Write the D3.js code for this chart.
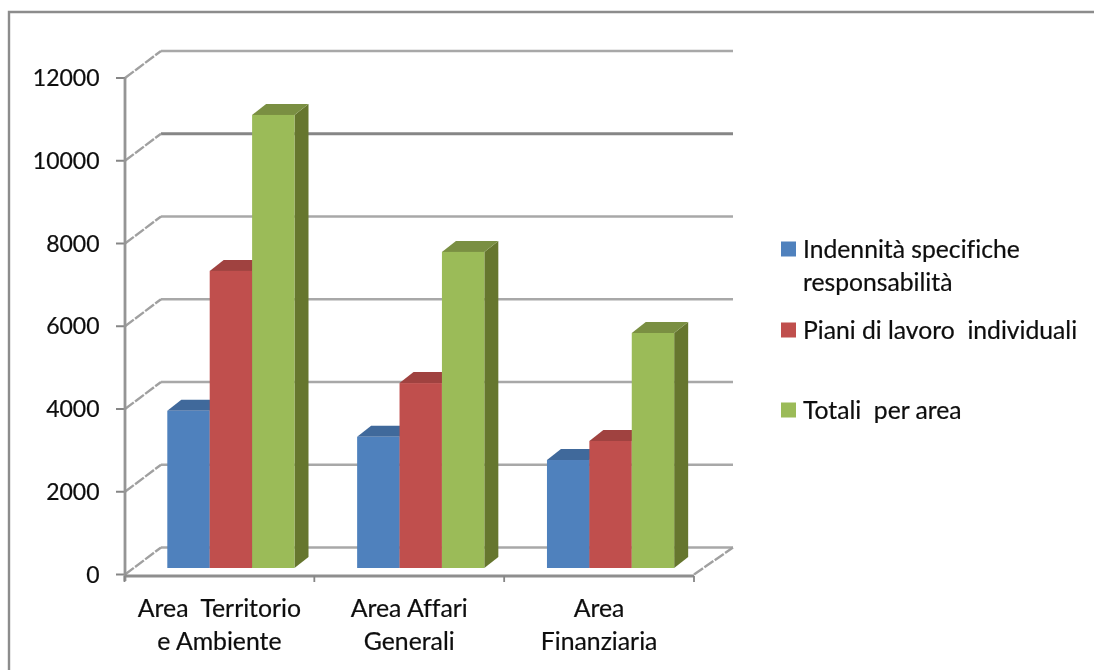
<!DOCTYPE html>
<html><head><meta charset="utf-8">
<script src="https://cdn.jsdelivr.net/npm/d3@7"></script>
<style>
html,body{margin:0;padding:0;background:#fff;overflow:hidden}
text{font-family:Lato,sans-serif;fill:#0c0c0c;stroke:#0c0c0c;stroke-width:0.2;font-variant-ligatures:none}
</style></head><body>
<script>
const categories=[["Area  Territorio","e Ambiente"],["Area Affari","Generali"],["Area","Finanziaria"]];
const seriesNames=[["Indennità specifiche","responsabilità"],["Piani di lavoro  individuali"],["Totali  per area"]];
const indennita=[3800,3170,2610];
const piani=[7180,4470,3070];
const totali=[10950,7640,5680];
const yTicks=[0,2000,4000,6000,8000,10000,12000];
const seriesValues=[indennita,piani,totali];
const front=["#4f81bd","#c0504d","#9bbb59"];
const side=["#385d8a","#8c3a38","#66762f"];
const top_=["#41699b","#a04341","#7a8f42"];

const svg=d3.select("body").append("svg").attr("width",1094).attr("height",670)
  .style("display","block");
svg.append("defs").append("filter").attr("id","soft").attr("x","-2%").attr("y","-2%").attr("width","104%").attr("height","104%")
  .append("feGaussianBlur").attr("stdDeviation",0.55);
const root=svg.append("g").attr("filter","url(#soft)");
root.append("path").attr("d","M9,670V12H1094").attr("fill","none").attr("stroke","#8c8c8c").attr("stroke-width",2.4);

const y=d3.scaleLinear().domain([0,12000]).range([574.5,78]);
const x=d3.scaleBand().domain([0,1,2]).range([124.5,694]);
const depthX=36,depthY=-27, barDX=14, barDY=-11, baseShift=-6.5;
const grey="#a0a0a0", dark="#868686";
const g=root.append("g");
// back wall gridlines + side wall dashes
yTicks.forEach(t=>{
  const yy=y(t);
  g.append("line").attr("x1",125+depthX).attr("x2",733).attr("y1",yy+depthY).attr("y2",yy+depthY)
    .attr("stroke",t===10000?dark:"#a8a8a8").attr("stroke-width",t===10000?3.2:2.6);
  g.append("line").attr("x1",125).attr("y1",yy).attr("x2",125+depthX).attr("y2",yy+depthY)
    .attr("stroke",grey).attr("stroke-width",2.4).attr("stroke-dasharray","11 1.6");
  g.append("line").attr("x1",116).attr("x2",125).attr("y1",yy).attr("y2",yy).attr("stroke",dark).attr("stroke-width",2);
  root.append("text").attr("x",99.5).attr("y",yy+8).attr("text-anchor","end").attr("font-size",23).text(d3.format("d")(t));
});
// floor right edge
g.append("line").attr("x1",694).attr("y1",y(0)).attr("x2",733).attr("y2",y(0)+depthY)
  .attr("stroke",grey).attr("stroke-width",2.4).attr("stroke-dasharray","11 1.6");
// axes
g.append("line").attr("x1",125).attr("x2",125).attr("y1",y(12000)).attr("y2",581).attr("stroke","#959595").attr("stroke-width",2.8);
g.append("line").attr("x1",125).attr("x2",694).attr("y1",576).attr("y2",576).attr("stroke","#8e8e8e").attr("stroke-width",2.8);
[0,1,2,3].forEach(i=>{
  const xx=i<3?x(i):x.range()[1];
  g.append("line").attr("x1",xx).attr("x2",xx).attr("y1",576).attr("y2",582).attr("stroke",dark).attr("stroke-width",1.8);
});
// bars
const barW=42.4, groupOff=42.8;
const base=y(0)+baseShift;
const pxPer=v=>y(0)-y(v);
categories.forEach((c,ci)=>{
  seriesValues.forEach((vals,si)=>{
    const x0=x(ci)+groupOff+si*barW, x1=x0+barW, h=pxPer(vals[ci]), t=base-h;
    g.append("path").attr("d",`M${x1},${t}L${x1+barDX},${t+barDY}V${base+barDY}L${x1},${base}Z`).attr("fill",side[si]);
    g.append("path").attr("d",`M${x0},${t}L${x0+barDX},${t+barDY}H${x1+barDX}L${x1},${t}Z`).attr("fill",top_[si]);
  });
  seriesValues.forEach((vals,si)=>{
    const x0=x(ci)+groupOff+si*barW, h=pxPer(vals[ci]), t=base-h;
    g.append("rect").attr("x",x0).attr("y",t).attr("width",barW).attr("height",h).attr("fill",front[si]);
  });
  const cx=x(ci)+x.bandwidth()/2;
  c.forEach((ln,li)=>root.append("text").attr("x",cx).attr("y",617+li*33).attr("text-anchor","middle")
    .attr("font-size",24.8).style("white-space","pre").text(ln));
});
// legend
const legY=[249,330,410];
seriesNames.forEach((lines,i)=>{
  root.append("rect").attr("x",781).attr("y",legY[i]-7.5).attr("width",15).attr("height",15).attr("fill",front[i]);
  lines.forEach((ln,li)=>root.append("text").attr("x",803).attr("y",legY[i]+9+li*33)
    .attr("font-size",24.7).style("white-space","pre").text(ln));
});
</script></body></html>
